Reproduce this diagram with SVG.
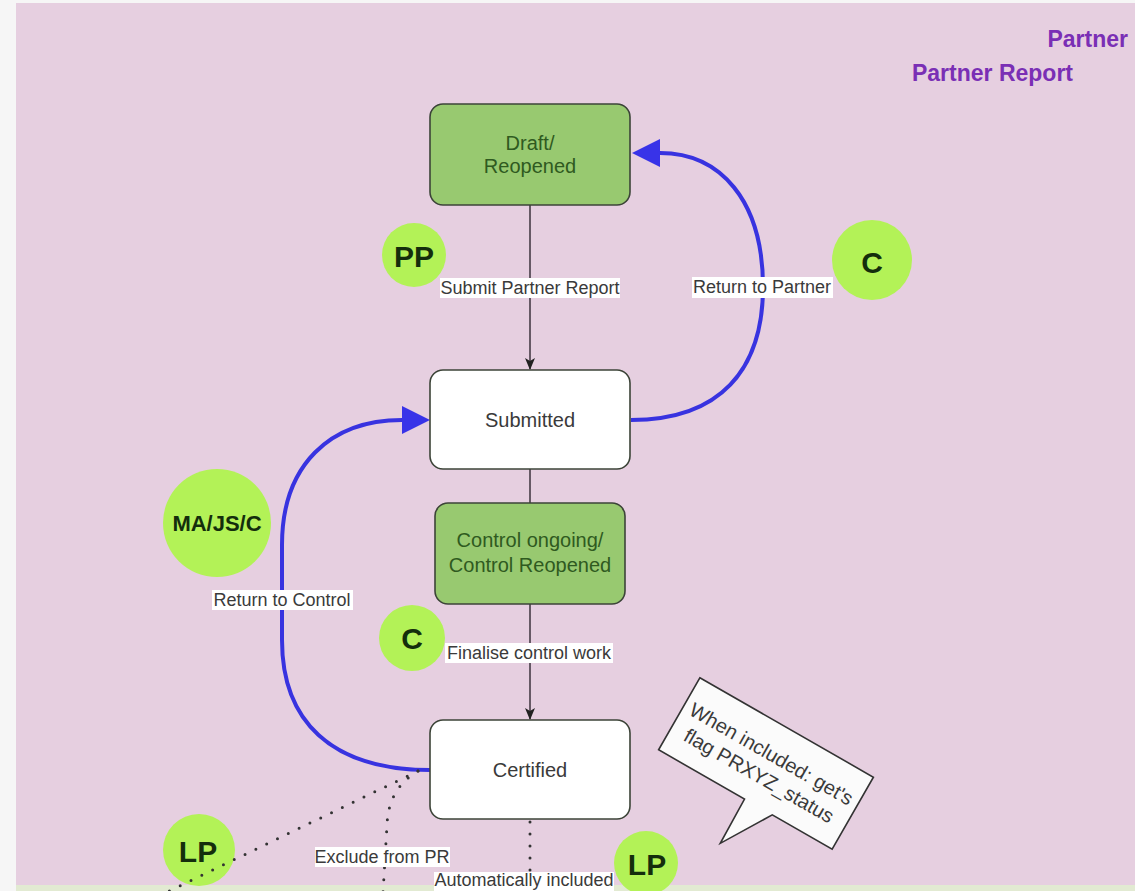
<svg xmlns="http://www.w3.org/2000/svg" width="1135" height="891" viewBox="0 0 1135 891">
<defs>
<style>
.state{stroke:#3c4438;stroke-width:1.6}
.green{fill:#98c970}
.white{fill:#ffffff}
.gtxt{font-family:"Liberation Sans",Arial,sans-serif;font-size:20px;fill:#2f5a20;text-anchor:middle}
.wtxt{font-family:"Liberation Sans",Arial,sans-serif;font-size:20px;fill:#3a3a3a;text-anchor:middle}
.badge{fill:#b3f257}
.btxt{font-family:"Liberation Sans",Arial,sans-serif;font-weight:bold;fill:#142e0c;text-anchor:middle}
.flow{fill:none;stroke:#463c46;stroke-width:1.6}
.back{fill:none;stroke:#3833e0;stroke-width:4}
.dots{fill:none;stroke:#333;stroke-width:3;stroke-linecap:round;stroke-dasharray:0 12}
.lbg{fill:#ffffff}
.ltxt{font-family:"Liberation Sans",Arial,sans-serif;font-size:18px;fill:#3a3a3a;text-anchor:middle}
.title{font-family:"Liberation Sans",Arial,sans-serif;font-weight:bold;font-size:23px;fill:#7a2fb5;text-anchor:end}
</style>
<marker id="blk" markerUnits="userSpaceOnUse" markerWidth="12" markerHeight="10" viewBox="0 0 12 10" refX="11" refY="5" orient="auto">
<path d="M0,0 L12,5 L0,10 L3,5 Z" fill="#222"/>
</marker>
<marker id="blue" markerUnits="userSpaceOnUse" markerWidth="28" markerHeight="28" viewBox="0 0 28 28" refX="0" refY="14" orient="auto">
<path d="M0,0 L28,14 L0,28 Z" fill="#3833e8"/>
</marker>
</defs>

<rect x="0" y="0" width="1135" height="891" fill="#f6f6f6"/>
<rect x="16" y="3" width="1119" height="882" fill="#e6cfe0"/>
<rect x="16" y="885" width="1119" height="6" fill="#e2ead2"/>

<text class="title" x="1128" y="47">Partner</text>
<text class="title" x="1073" y="81">Partner Report</text>

<g id="badges">
<g id="badge-pp"><circle class="badge" cx="414" cy="255" r="32"/><text class="btxt" x="414" y="267" font-size="30">PP</text></g>
<g id="badge-c1"><circle class="badge" cx="872" cy="260" r="40"/><text class="btxt" x="872" y="273" font-size="30">C</text></g>
<g id="badge-majsc"><circle class="badge" cx="217" cy="523" r="54"/><text class="btxt" x="217" y="531" font-size="22">MA/JS/C</text></g>
<g id="badge-c2"><circle class="badge" cx="412" cy="638" r="33"/><text class="btxt" x="412" y="649" font-size="30">C</text></g>
<g id="badge-lp1"><circle class="badge" cx="199" cy="850" r="36"/><text class="btxt" x="198" y="862" font-size="30">LP</text></g>
<g id="badge-lp2"><circle class="badge" cx="646" cy="863" r="32"/><text class="btxt" x="647" y="875" font-size="30">LP</text></g>
</g>

<g id="connectors">
<path class="flow" d="M530,205 L530,369" marker-end="url(#blk)"/>
<path class="flow" d="M530,469 L530,503"/>
<path class="flow" d="M530,604 L530,719" marker-end="url(#blk)"/>
<path class="back" d="M631,420 C720,420 763,370 763,287 C763,200 720,153 660,153" marker-end="url(#blue)"/>
<path class="back" d="M430,770 C330,770 282,720 282,640 L282,545 C282,465 330,420 402,420" marker-end="url(#blue)"/>
<path class="dots" d="M418,771 L165,893"/>
<path class="dots" d="M418,771 C398,783 388,800 387,825 L383,893"/>
<path class="dots" d="M530,822 L530,893"/>

<rect class="lbg" x="440" y="278" width="180" height="20"/>
<text class="ltxt" x="530" y="294">Submit Partner Report</text>
<rect class="lbg" x="692" y="277" width="141" height="21"/>
<text class="ltxt" x="762" y="293">Return to Partner</text>
<rect class="lbg" x="212" y="590" width="141" height="20"/>
<text class="ltxt" x="282" y="606">Return to Control</text>
<rect class="lbg" x="445" y="643" width="168" height="20"/>
<text class="ltxt" x="529" y="659">Finalise control work</text>
<rect class="lbg" x="315" y="847" width="135" height="20"/>
<text class="ltxt" x="382" y="863">Exclude from PR</text>
<rect class="lbg" x="434" y="872" width="180" height="19"/>
<text class="ltxt" x="524" y="886">Automatically included</text>
</g>

<g id="node-draft">
<rect class="state green" x="430" y="104" width="200" height="101" rx="13"/>
<text class="gtxt" x="530" y="150">Draft/</text>
<text class="gtxt" x="530" y="173">Reopened</text>
</g>
<g id="node-submitted">
<rect class="state white" x="430" y="370" width="200" height="99" rx="13"/>
<text class="wtxt" x="530" y="427">Submitted</text>
</g>
<g id="node-control">
<rect class="state green" x="435" y="503" width="190" height="101" rx="13"/>
<text class="gtxt" x="530" y="547">Control ongoing/</text>
<text class="gtxt" x="530" y="572">Control Reopened</text>
</g>
<g id="node-certified">
<rect class="state white" x="430" y="720" width="200" height="99" rx="13"/>
<text class="wtxt" x="530" y="777">Certified</text>
</g>

<g id="callout" transform="translate(766,763.5) rotate(29.8)">
<path d="M-100,-41.5 H100 V41.5 H31 L0,92 L-1,41.5 H-100 Z" fill="#fbfbfb" stroke="#333" stroke-width="1.6"/>
<text class="wtxt" x="0" y="-4" font-size="19" fill="#555">When included: get's</text>
<text class="wtxt" x="0" y="21" font-size="19" fill="#555">flag PRXYZ_status</text>
</g>
</svg>
